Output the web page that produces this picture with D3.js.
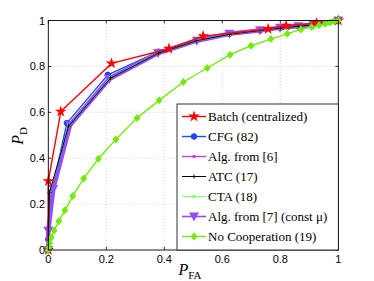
<!DOCTYPE html>
<html>
<head>
<meta charset="utf-8">
<script src="https://d3js.org/d3.v7.min.js"></script>
<style>
  body { margin: 0; background: #fff; }
  svg { display: block; }
</style>
</head>
<body>
<div id="graph"></div>
<script>
// ROC curves, values
var ticks = [0, 0.2, 0.4, 0.6, 0.8, 1];
var tickLabels = ["0", "0.2", "0.4", "0.6", "0.8", "1"];

var pfaBatch = [0, 0, 0.043, 0.218, 0.416, 0.534, 0.758, 0.82, 0.925, 1];
var pdBatch  = [0, 0.30, 0.603, 0.813, 0.877, 0.932, 0.963, 0.978, 0.988, 1];

var pfaCFG = [0, 0, 0.012, 0.064, 0.205, 0.38, 0.512, 0.624, 0.73, 0.8, 0.862, 0.914, 1];
var pdCFG  = [0, 0.047, 0.254, 0.553, 0.763, 0.864, 0.915, 0.942, 0.957, 0.968, 0.975, 0.981, 1];

var pfaAlg6 = [0, 0.002, 0.014, 0.07, 0.21, 0.381, 0.513, 0.625, 0.731, 0.8, 0.862, 0.914, 1];
var pdAlg6  = [0, 0.06, 0.26, 0.545, 0.755, 0.86, 0.913, 0.941, 0.956, 0.968, 0.975, 0.981, 1];

var pfaATC = [0, 0.004, 0.07, 0.215, 0.38, 0.512, 0.625, 0.73, 0.8, 0.862, 0.914, 1];
var pdATC  = [0, 0.25, 0.54, 0.75, 0.858, 0.912, 0.94, 0.956, 0.967, 0.975, 0.981, 1];

var pfaCTA = [0, 0.004, 0.07, 0.214, 0.38, 0.512, 0.625, 0.73, 0.8, 0.862, 0.914, 1];
var pdCTA  = [0, 0.25, 0.541, 0.751, 0.859, 0.912, 0.94, 0.956, 0.967, 0.975, 0.981, 1];

var pfaAlg7 = [0, 0, 0.017, 0.075, 0.21, 0.379, 0.512, 0.624, 0.73, 0.799, 0.862, 0.914, 1];
var pdAlg7  = [0, 0.084, 0.266, 0.545, 0.745, 0.858, 0.912, 0.942, 0.957, 0.968, 0.975, 0.981, 1];

var pfaNoCoop = [0, 0.002, 0.005, 0.01, 0.02, 0.036, 0.057, 0.084, 0.122, 0.173, 0.233, 0.306, 0.382,
                 0.466, 0.548, 0.627, 0.699, 0.767, 0.824, 0.871, 0.908, 0.934, 0.955, 0.972, 0.985, 1];
var pdNoCoop  = [0, 0.01, 0.03, 0.055, 0.085, 0.125, 0.173, 0.235, 0.312, 0.398, 0.482, 0.575, 0.652,
                 0.732, 0.793, 0.851, 0.89, 0.919, 0.942, 0.961, 0.972, 0.979, 0.986, 0.991, 0.996, 1];

var seriesNames = ["Batch (centralized)", "CFG (82)", "Alg. from [6]", "ATC (17)", "CTA (18)",
                   "Alg. from [7] (const \u03bc)", "No Cooperation (19)"];

function chart() {
var width = 374, height = 281;

var x = d3.scaleLinear().domain([0, 1]).range([48.3, 338.3]);
var y = d3.scaleLinear().domain([0, 1]).range([250, 20.5]);

var series = [
    {name: seriesNames[0], pfa: pfaBatch, pd: pdBatch, color: "#ff0000", lw: 1.4, marker: "star", order: 5},
    {name: seriesNames[1], pfa: pfaCFG, pd: pdCFG, color: "#2244ff", lw: 1.4, marker: "circle", order: 0},
    {name: seriesNames[2], pfa: pfaAlg6, pd: pdAlg6, color: "#c040ff", lw: 1.4, marker: "dot", order: 1},
    {name: seriesNames[3], pfa: pfaATC, pd: pdATC, color: "#000000", lw: 1, marker: "plus", order: 4},
    {name: seriesNames[4], pfa: pfaCTA, pd: pdCTA, color: "#80ff60", lw: 1, marker: "dot", order: 3},
    {name: seriesNames[5], pfa: pfaAlg7, pd: pdAlg7, color: "#9050ff", lw: 4.5, marker: "tri", order: 2},
    {name: seriesNames[6], pfa: pfaNoCoop, pd: pdNoCoop, color: "#72ea0c", lw: 1.4, marker: "diamond", order: 6}
];

var svg = d3.select("#graph").append("svg")
    .attr("width", width).attr("height", height);

// grid
var grid = svg.append("g")
    .attr("stroke", "#c8c8c8")
    .attr("stroke-width", 0.8)
    .attr("stroke-dasharray", "1,2");
grid.selectAll(".gx").data(ticks.slice(1, -1)).join("line")
    .attr("x1", d => x(d)).attr("x2", d => x(d))
    .attr("y1", y(0)).attr("y2", y(1));
grid.selectAll(".gy").data(ticks.slice(1, -1)).join("line")
    .attr("y1", d => y(d)).attr("y2", d => y(d))
    .attr("x1", x(0)).attr("x2", x(1));

// inward ticks on all four sides
var tk = svg.append("g").attr("stroke", "#000").attr("stroke-width", 0.8);
ticks.forEach(function (t) {
    tk.append("line").attr("x1", x(t)).attr("x2", x(t)).attr("y1", y(0)).attr("y2", y(0) - 3);
    tk.append("line").attr("x1", x(t)).attr("x2", x(t)).attr("y1", y(1)).attr("y2", y(1) + 3);
    tk.append("line").attr("y1", y(t)).attr("y2", y(t)).attr("x1", x(0)).attr("x2", x(0) + 3);
    tk.append("line").attr("y1", y(t)).attr("y2", y(t)).attr("x1", x(1)).attr("x2", x(1) - 3);
});

var lbl = svg.append("g")
    .style("font-family", "'Liberation Sans', Arial, sans-serif")
    .style("font-size", "11px")
    .attr("fill", "#000");
ticks.forEach(function (t, i) {
    lbl.append("text").attr("x", x(t)).attr("y", 263)
        .attr("text-anchor", "middle").text(tickLabels[i]);
    lbl.append("text").attr("x", 45).attr("y", y(t) + 4)
        .attr("text-anchor", "end").text(tickLabels[i]);
});

// curves
var line = d3.line().x(d => x(d[0])).y(d => y(d[1]));
var plotted = series.slice().sort((a, b) => a.order - b.order);

function drawMarker(g, type, color, cx, cy) {
    if (type === "star") {
        g.append("path").attr("d", d3.symbol(d3.symbolStar, 42)())
            .attr("transform", `translate(${cx},${cy})`).attr("fill", color);
    } else if (type === "circle") {
        g.append("circle").attr("cx", cx).attr("cy", cy).attr("r", 2.8)
            .attr("fill", color).attr("stroke", color);
    } else if (type === "dot") {
        g.append("circle").attr("cx", cx).attr("cy", cy).attr("r", 1.8).attr("fill", color);
    } else if (type === "plus") {
        g.append("path").attr("d", `M${cx - 2},${cy}H${cx + 2}M${cx},${cy - 2}V${cy + 2}`)
            .attr("stroke", color).attr("stroke-width", 1);
    } else if (type === "tri") {
        g.append("path").attr("d", `M${cx - 5},${cy - 4}L${cx + 5},${cy - 4}L${cx},${cy + 5}Z`)
            .attr("fill", color);
    } else if (type === "diamond") {
        g.append("path").attr("d", `M${cx},${cy - 4}L${cx + 3.5},${cy}L${cx},${cy + 4}L${cx - 3.5},${cy}Z`)
            .attr("fill", color);
    }
}

plotted.forEach(function (s) {
    var pts = s.pfa.map((v, i) => [v, s.pd[i]]);
    var g = svg.append("g");
    g.append("path").datum(pts)
        .attr("d", line)
        .attr("fill", "none")
        .attr("stroke", s.color)
        .attr("stroke-width", s.lw)
        .attr("stroke-linejoin", "round");
    pts.forEach(p => drawMarker(g, s.marker, s.color, x(p[0]), y(p[1])));
});

// axes box
svg.append("rect")
    .attr("x", x(0)).attr("y", y(1))
    .attr("width", x(1) - x(0)).attr("height", y(0) - y(1))
    .attr("fill", "none").attr("stroke", "#000").attr("stroke-width", 0.9);

// legend
var lg = svg.append("g");
lg.append("rect")
    .attr("x", 177).attr("y", 104)
    .attr("width", x(1) - 177).attr("height", y(0) - 104)
    .attr("fill", "#fff").attr("stroke", "#000").attr("stroke-width", 0.8);
series.forEach(function (s, i) {
    var ly = 116.5 + i * 20;
    lg.append("line").attr("x1", 182).attr("x2", 206).attr("y1", ly).attr("y2", ly)
        .attr("stroke", s.color).attr("stroke-width", s.lw > 2 ? 1.6 : s.lw);
    drawMarker(lg, s.marker, s.color, 194, ly);
    lg.append("text").attr("x", 208).attr("y", ly + 4.5)
        .style("font-family", "'Liberation Serif', 'Times New Roman', serif")
        .style("font-size", "13px")
        .text(s.name);
});

// axis labels
var ylab = svg.append("text")
    .attr("transform", "translate(23,136) rotate(-90)")
    .attr("text-anchor", "middle")
    .style("font-family", "'Liberation Serif', serif")
    .style("font-size", "16px");
ylab.append("tspan").style("font-style", "italic").text("P");
ylab.append("tspan").attr("dy", 4).style("font-size", "11px").text("D");

var xlab = svg.append("text")
    .attr("x", 190).attr("y", 275)
    .attr("text-anchor", "middle")
    .style("font-family", "'Liberation Serif', serif")
    .style("font-size", "16px");
xlab.append("tspan").style("font-style", "italic").text("P");
xlab.append("tspan").attr("dy", 4).style("font-size", "11px").text("FA");
}

chart();
</script>
</body>
</html>
